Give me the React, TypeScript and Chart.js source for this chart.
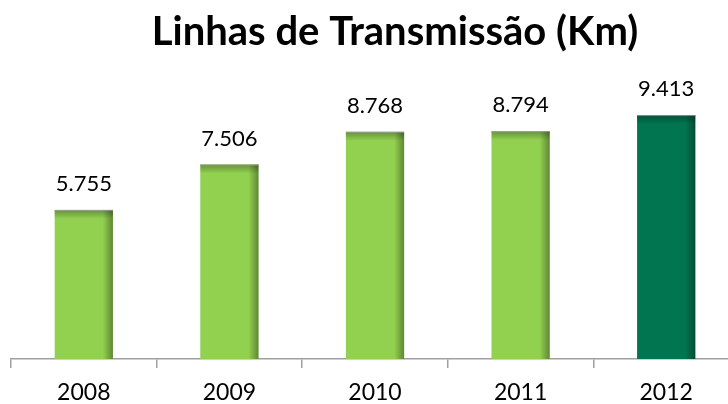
import React, { useEffect, useRef } from "react";
import { Chart, registerables } from "chart.js";

Chart.register(...registerables);

const title = "Linhas de Transmissão (Km)";
const categories = ["2008", "2009", "2010", "2011", "2012"];
const values = [5755, 7506, 8768, 8794, 9413];
const valueLabels = ["5.755", "7.506", "8.768", "8.794", "9.413"];
const barColors = ["#92D050", "#92D050", "#92D050", "#92D050", "#00754F"];

const FONT = "Lato, 'Open Sans', sans-serif";

const shadePlugin = {
  id: "shade",
  afterDatasetsDraw(chart: any) {
    const ctx = chart.ctx;
    const meta = chart.getDatasetMeta(0);
    meta.data.forEach((bar: any, i: number) => {
      const left = bar.x - bar.width / 2;
      const right = bar.x + bar.width / 2;
      const top = bar.y;
      const bottom = bar.base;
      ctx.save();
      const g = ctx.createLinearGradient(right - 10, 0, right, 0);
      g.addColorStop(0, "rgba(0,0,0,0)");
      g.addColorStop(1, "rgba(0,0,0,0.35)");
      ctx.fillStyle = g;
      ctx.fillRect(right - 10, top, 10, bottom - top);
      const g2 = ctx.createLinearGradient(0, top, 0, top + 9);
      g2.addColorStop(0, "rgba(0,0,0,0.3)");
      g2.addColorStop(1, "rgba(0,0,0,0)");
      ctx.fillStyle = g2;
      ctx.fillRect(left, top, right - left, 9);
      ctx.strokeStyle = "rgba(160,160,160,0.8)";
      ctx.lineWidth = 1;
      ctx.beginPath();
      ctx.moveTo(left, top + 0.5);
      ctx.lineTo(right, top + 0.5);
      ctx.stroke();
      ctx.fillStyle = "#000";
      ctx.font = `22px ${FONT}`;
      ctx.textAlign = "center";
      ctx.textBaseline = "alphabetic";
      ctx.fillText(valueLabels[i], bar.x, top - 19);
      ctx.restore();
    });
    ctx.save();
    ctx.fillStyle = "#000";
    ctx.font = `bold 40px ${FONT}`;
    ctx.textAlign = "center";
    ctx.textBaseline = "alphabetic";
    ctx.fillText(title, 395, 45);
    ctx.restore();
  },
};

export default function App() {
  const ref = useRef<HTMLCanvasElement | null>(null);
  useEffect(() => {
    document.body.style.overflow = "hidden";
    const chart = new Chart(ref.current as HTMLCanvasElement, {
      type: "bar",
      data: {
        labels: categories,
        datasets: [
          {
            data: values,
            backgroundColor: barColors,
            categoryPercentage: 1,
            barPercentage: 0.4,
          },
        ],
      },
      options: {
        animation: false,
        responsive: false,
        maintainAspectRatio: false,
        layout: { padding: { left: 11, right: 1, top: 74, bottom: 0 } },
        plugins: { legend: { display: false }, tooltip: { enabled: false }, title: { display: false } },
        scales: {
          x: {
            offset: true,
            border: { display: true, color: "#A0A0A0", width: 1.5 },
            grid: {
              offset: true,
              drawOnChartArea: false,
              drawTicks: true,
              tickLength: 9,
              color: "#A0A0A0",
              lineWidth: 1.5,
            },
            ticks: { color: "#000", font: { family: FONT, size: 23, lineHeight: 1 }, padding: 13.5 },
          },
          y: {
            display: false,
            min: 0,
            max: 11000,
          },
        },
      },
      plugins: [shadePlugin],
    });
    return () => chart.destroy();
  }, []);
  return (
    <div style={{ position: "absolute", left: 0, top: 0, width: 740, height: 404, overflow: "hidden", background: "#fff" }}>
      <canvas ref={ref} width={740} height={418} />
    </div>
  );
}
